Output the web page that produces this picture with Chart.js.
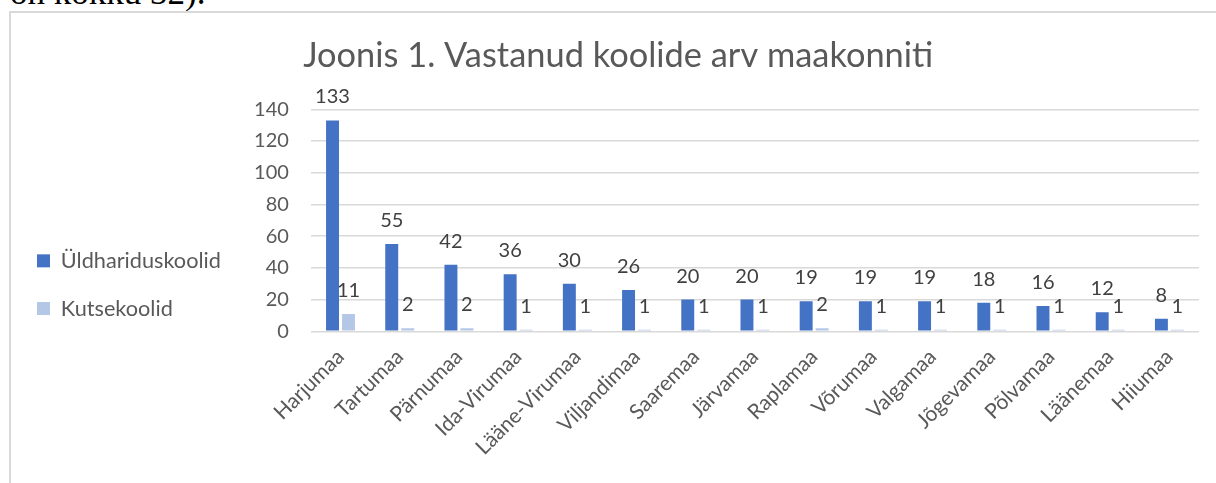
<!DOCTYPE html>
<html>
<head>
<meta charset="utf-8">
<script src="https://cdn.jsdelivr.net/npm/chart.js@4.4.1/dist/chart.umd.min.js"></script>
<style>
  html, body { margin:0; padding:0; background:#fff; overflow:hidden; width:1216px; height:483px; }
  #top { position:absolute; left:10px; top:-25px; font-family:"Liberation Serif", serif; font-size:35px; line-height:35px; color:#000; white-space:nowrap; }
  #frame { position:absolute; left:9px; top:11px; width:1300px; height:600px; border-left:2px solid #d9d9d9; border-top:2px solid #d9d9d9; }
  #c { position:absolute; left:11px; top:13px; }
</style>
</head>
<body>
<div id="top">on kokku 32).</div>
<div id="frame"></div>
<canvas id="c" width="1205" height="470"></canvas>
<script>
const categories = ["Harjumaa","Tartumaa","Pärnumaa","Ida-Virumaa","Lääne-Virumaa","Viljandimaa","Saaremaa","Järvamaa","Raplamaa","Võrumaa","Valgamaa","Jõgevamaa","Põlvamaa","Läänemaa","Hiiumaa"];
const yldharidus = [133,55,42,36,30,26,20,20,19,19,19,18,16,12,8];
const kutse = [11,2,2,1,1,1,1,1,2,1,1,1,1,1,1];
const yTicks = [0,20,40,60,80,100,120,140];

const FONT = "Lato, 'Open Sans', sans-serif";

const valueLabels = {
  id: 'valueLabels',
  afterDatasetsDraw(chart) {
    const ctx = chart.ctx;
    ctx.save();
    ctx.font = "20px " + FONT;
    ctx.fillStyle = "#404040";
    ctx.textAlign = "center";
    ctx.textBaseline = "alphabetic";
    chart.data.datasets.forEach((ds, i) => {
      const meta = chart.getDatasetMeta(i);
      meta.data.forEach((el, j) => {
        ctx.fillText(String(ds.data[j]), el.x, el.y - 17);
      });
    });
    ctx.restore();
  }
};

new Chart(document.getElementById('c'), {
  type: 'bar',
  data: {
    labels: categories,
    datasets: [
      { label: 'Üldhariduskoolid', data: yldharidus, backgroundColor: '#4472C4', categoryPercentage: 0.54, barPercentage: 0.81 },
      { label: 'Kutsekoolid', data: kutse, backgroundColor: '#B4C7E7', categoryPercentage: 0.54, barPercentage: 0.81 }
    ]
  },
  options: {
    responsive: false,
    animation: false,
    layout: { padding: { left: 0, right: 17, top: 22, bottom: 10 } },
    plugins: {
      title: {
        display: true,
        text: '   Joonis 1. Vastanud koolide arv maakonniti',
        color: '#595959',
        font: { family: FONT, size: 34.4, weight: 'normal' },
        padding: { top: 0, bottom: 33 }
      },
      legend: {
        position: 'left',
        align: 'start',
        title: { display: true, text: ' ', font: { size: 10 }, padding: { top: 177, bottom: 0 } },
        labels: {
          boxWidth: 13, boxHeight: 13,
          color: '#595959',
          font: { family: FONT, size: 21.7 },
          padding: 26
        }
      },
      tooltip: { enabled: false }
    },
    scales: {
      x: {
        grid: { display: false, drawTicks: false },
        border: { display: false },
        ticks: { color: '#595959', font: { family: FONT, size: 21 }, minRotation: 45, maxRotation: 45, padding: 13, autoSkip: false }
      },
      y: {
        min: 0, max: 140,
        afterBuildTicks: (s) => { s.ticks = yTicks.map(v => ({ value: v })); },
        afterFit: (s) => { s.width = 80; },
        grid: { color: '#d9d9d9', lineWidth: 1.5, drawTicks: false },
        border: { display: false },
        ticks: { color: '#595959', font: { family: FONT, size: 20 }, padding: 22 }
      }
    }
  },
  plugins: [valueLabels]
});
</script>
</body>
</html>
